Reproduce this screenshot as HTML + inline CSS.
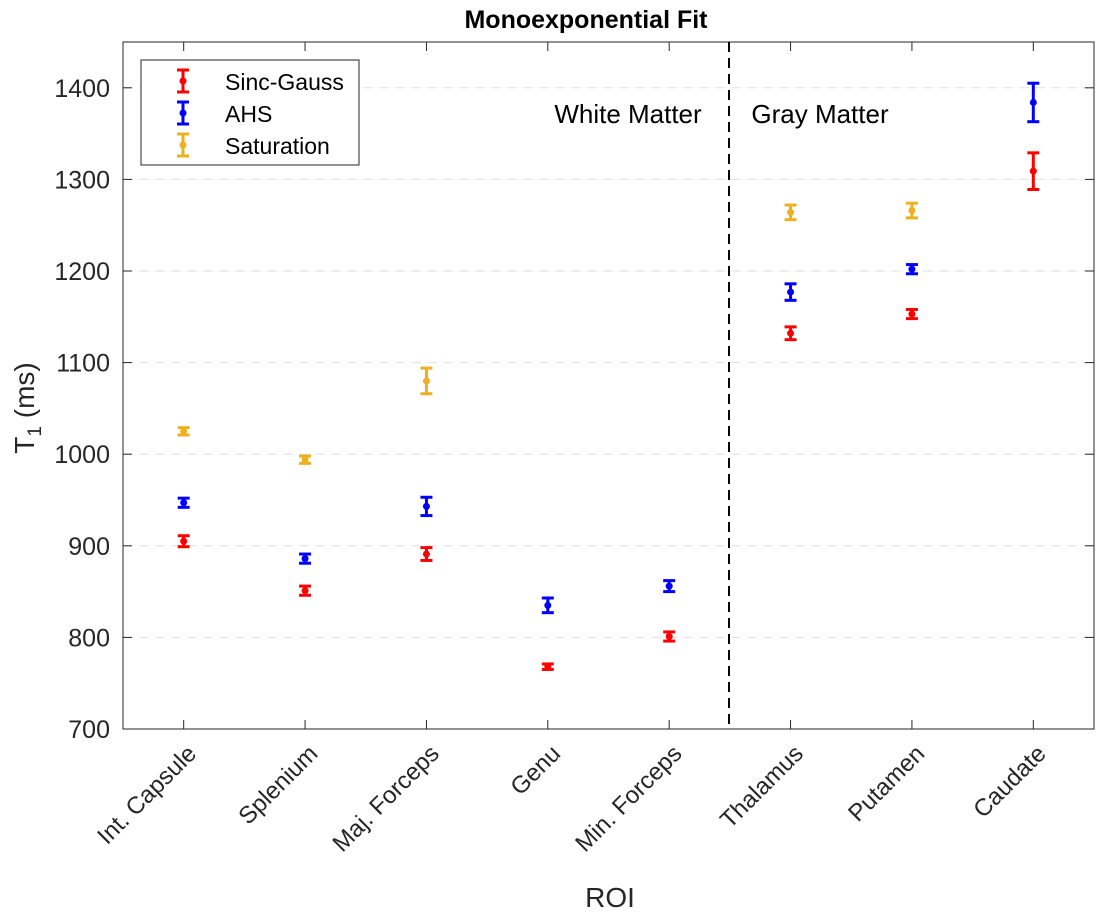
<!DOCTYPE html>
<html><head><meta charset="utf-8"><style>
body{margin:0;background:#fff;}
svg text{font-family:"Liberation Sans",sans-serif;}
</style></head><body>
<svg id="c" width="1104" height="916" xmlns="http://www.w3.org/2000/svg">
<text x="586" y="28" font-size="25" font-weight="bold" text-anchor="middle">Monoexponential Fit</text>
<g id="grid"></g>
<g id="marks"></g>
<rect x="123" y="42" width="971" height="687" fill="none" stroke="#262626" stroke-width="1"/>
<line x1="729" y1="42" x2="729" y2="729" stroke="#000" stroke-width="2" stroke-dasharray="10,6"/>
<text x="628" y="123" font-size="26" text-anchor="middle">White Matter</text>
<text x="820" y="123" font-size="26" text-anchor="middle">Gray Matter</text>
<text x="610" y="907" font-size="28" text-anchor="middle" fill="#262626">ROI</text>
<text transform="translate(34,408) rotate(-90)" font-size="28" text-anchor="middle" fill="#262626">T<tspan font-size="19" dy="7">1</tspan><tspan dy="-7"> (ms)</tspan></text>
<rect x="141" y="60" width="218" height="105" fill="#fff" stroke="#262626" stroke-width="1"/>
<g id="leg"></g>
</svg>
<script>
const categories=["Int. Capsule","Splenium","Maj. Forceps","Genu","Min. Forceps","Thalamus","Putamen","Caudate"];
const seriesNames=["Sinc-Gauss","AHS","Saturation"];
const sincVals=[905,851,891,768,801,1132,1153,1309];
const sincErr=[6,5,7,3,5,7,5,20];
const ahsVals=[947,886,943,835,856,1177,1202,1384];
const ahsErr=[5,5,10,8,6,9,5,21];
const satVals=[1025,994,1080,null,null,1264,1266,null];
const satErr=[4,4,14,0,0,8,8,0];
const yTicks=[700,800,900,1000,1100,1200,1300,1400];
const colors=["#ff0000","#0000ff","#edb120"];
const NS="http://www.w3.org/2000/svg";
const X0=123,X1=1094,Y0=729,Y1=42,YMIN=700,YMAX=1450;
function xs(i){return X0+(i+0.5)*(X1-X0)/categories.length;}
function ys(v){return Y0-(v-YMIN)*(Y0-Y1)/(YMAX-YMIN);}
function mk(t,a,p){const e=document.createElementNS(NS,t);for(const k in a)e.setAttribute(k,a[k]);(p||document.getElementById('marks')).appendChild(e);return e;}
const svg=document.getElementById('c');
const grid=document.getElementById('grid');
const leg=document.getElementById('leg');
yTicks.forEach(v=>{
  const y=ys(v);
  const g=mk('line',{x1:X0,x2:X1,y1:y,y2:y,stroke:'#e0e0e0','stroke-width':1,'stroke-dasharray':'10,6'},grid);
  
  
  mk('line',{x1:X0,x2:X0+9,y1:y,y2:y,stroke:'#262626'},svg);
  mk('line',{x1:X1,x2:X1-9,y1:y,y2:y,stroke:'#262626'},svg);
  const t=mk('text',{x:X0-13,y:y+9,'font-size':25,'text-anchor':'end',fill:'#262626'},svg);
  t.textContent=v;
  
  
});
categories.forEach((c,i)=>{
  const x=xs(i);
  mk('line',{x1:x,x2:x,y1:Y0,y2:Y0-9,stroke:'#262626'},svg);
  mk('line',{x1:x,x2:x,y1:Y1,y2:Y1+9,stroke:'#262626'},svg);
  const t=mk('text',{x:x+14,y:Y0+26,'font-size':24,'text-anchor':'end',fill:'#262626',transform:`rotate(-45 ${x+14} ${Y0+26})`},svg);
  t.textContent=c;
  
  
});
function errbar(x,yc,ylo,yhi,col,name,p){
  const g=mk('g',{},p);
  
  
  mk('line',{x1:x,x2:x,y1:ylo,y2:yhi,stroke:col,'stroke-width':3},g);
  mk('line',{x1:x-6,x2:x+6,y1:ylo,y2:ylo,stroke:col,'stroke-width':3},g);
  mk('line',{x1:x-6,x2:x+6,y1:yhi,y2:yhi,stroke:col,'stroke-width':3},g);
  mk('circle',{cx:x,cy:yc,r:3.5,fill:col},g);
}
[[sincVals,sincErr],[ahsVals,ahsErr],[satVals,satErr]].forEach((s,k)=>{
  s[0].forEach((v,i)=>{
    if(v==null)return;
    errbar(xs(i),ys(v),ys(v-s[1][i]),ys(v+s[1][i]),colors[k],'errorbar-'+seriesNames[k].toLowerCase().replace(/[^a-z]/g,''));
  });
});
seriesNames.forEach((n,k)=>{
  const y=81+k*32;
  errbar(183,y,y+11,y-11,colors[k],'legend-marker',leg);
  const t=mk('text',{x:225,y:y+9,'font-size':23,fill:'#000'},leg);
  t.textContent=n;
  
  
});
</script>
</body></html>
